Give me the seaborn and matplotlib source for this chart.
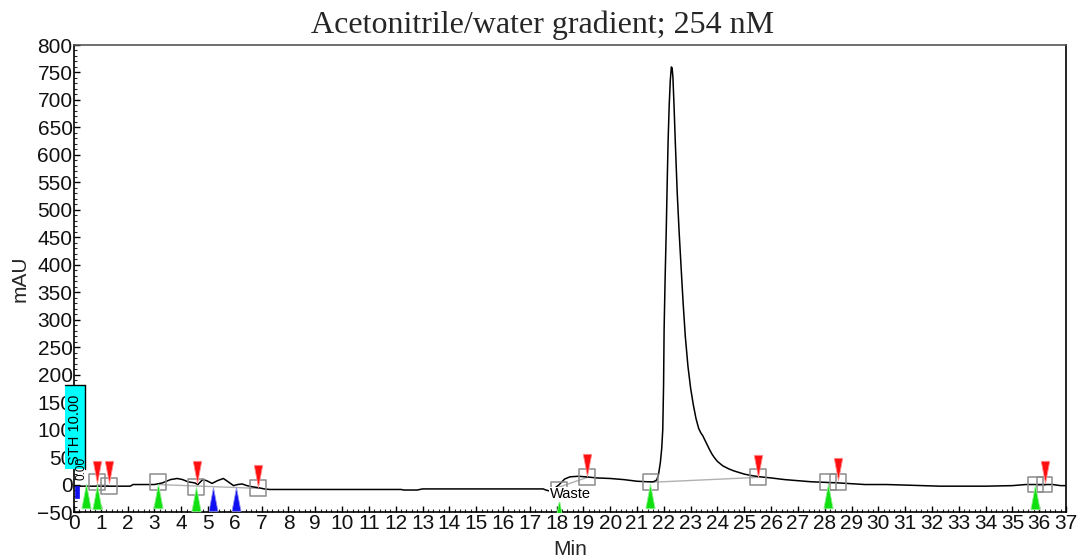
import numpy as np
import pandas as pd
import matplotlib
matplotlib.use("Agg")
import matplotlib.pyplot as plt
from matplotlib.patches import Rectangle
from matplotlib.ticker import MultipleLocator
import seaborn as sns

# ---------------- data ----------------
trace_t = [0.0, 0.5, 1.0, 1.5, 2.1, 2.2, 3.0, 3.3, 3.6, 3.85, 4.05, 4.25, 4.5, 4.62,
           4.8, 4.95, 5.15, 5.35, 5.57, 5.75, 5.95, 6.1, 6.27, 6.45, 6.64, 6.9, 7.1,
           7.3, 9.0, 10.0, 12.2, 12.3, 12.8, 13.0, 15.0, 17.5, 17.6, 17.75, 17.9,
           18.1, 18.3, 18.5, 18.8, 19.1, 19.5, 20.0, 20.5, 21.0, 21.4, 21.6, 21.7,
           21.74, 21.8, 21.87, 21.92, 21.96, 21.99, 22.01, 22.05, 22.09, 22.13,
           22.16, 22.2, 22.24, 22.28, 22.31, 22.34, 22.38, 22.43, 22.5, 22.57,
           22.65, 22.72, 22.8, 22.9, 23.0, 23.1, 23.2, 23.3, 23.38, 23.45, 23.52,
           23.6, 23.7, 23.8, 23.9, 24.0, 24.2, 24.4, 24.6, 24.8, 25.0, 25.3, 25.6,
           26.0, 26.5, 27.5, 28.5, 29.5, 30.3, 31.0, 32.3, 34.0, 35.0, 35.5, 36.5,
           36.8, 37.0]
trace_v = [-3, -3, -3, -3, -3, 0, 0, 3, 9, 11, 9, 5, 3, 0,
           9, 7, 2, 7, 11, 5, -2, 0, 1, -2, -4, -6, -8,
           -9, -9, -9, -9, -10, -10, -8, -8, -8, -10, -12, -8,
           0, 10, 14, 15, 14, 12, 11, 9, 6, 5, 5, 7,
           9, 18, 40, 65, 100, 180, 282, 380, 463, 560,
           627, 690, 735, 760, 758, 740, 690, 620, 530, 460,
           390, 330, 270, 215, 175, 145, 120, 102, 94, 89, 82,
           74, 64, 55, 48, 42, 34, 29, 25, 22, 19, 16, 14,
           12, 9, 5, 3, 0, 0, -1, -3, -3, -2, 0, 0,
           -2, -2]

red_t = [0.86, 1.3, 4.59, 6.87, 19.14, 25.5, 28.5, 36.2]
red_v = [23, 23, 22, 16, 35, 33, 28, 22]
green_t = [0.45, 0.86, 3.13, 4.55, 18.1, 21.5, 28.13, 35.86]
green_v = [-21, -23, -20, -27, -50, -20, -20, -22]
blue_t = [5.2, 6.04]
blue_v = [-26, -27]
blue_start_t = [0.13]
blue_start_v = [-14]
square_t = [0.86, 1.3, 3.13, 4.55, 6.87, 18.1, 19.14, 21.5, 25.5, 28.13, 28.5, 35.86, 36.2]
square_v = [5, -2, 5, -4, -7, -9, 13, 4, 13, 4, 5, 0, 0]
base_t0 = [0.86, 3.13, 17.9, 21.5, 28.13, 35.86]
base_v0 = [0, 0, -8, 4, 3, 0]
base_t1 = [1.3, 6.87, 19.14, 25.5, 28.5, 36.2]
base_v1 = [-2, -7, 13, 13, 4, 0]

x_ticks = list(range(0, 38))
y_ticks = list(range(-50, 801, 50))

# ---------------- figure ----------------
sns.set_style("white")
plt.rcParams['font.family'] = ['Liberation Sans', 'DejaVu Sans']

fig = plt.figure(figsize=(10.78, 5.58), dpi=100)
ax = fig.add_axes([74/1078, 1 - 512/558, (1066-74)/1078, (512-45)/558])

df = pd.DataFrame({"t": trace_t, "v": trace_v})

# baselines
for a, b, c, d in zip(base_t0, base_v0, base_t1, base_v1):
    ax.plot([a, c], [b, d], color="#b0b0b0", lw=1.0, zorder=2)

sns.lineplot(data=df, x="t", y="v", ax=ax, color="black", lw=1.1,
             estimator=None, sort=False, zorder=3)

down_tri = [(-0.38, 1.0), (0.38, 1.0), (0.0, -1.0), (-0.38, 1.0)]
up_tri = [(-0.38, -1.0), (0.38, -1.0), (0.0, 1.0), (-0.38, -1.0)]
bar_mk = [(-0.33, -1.0), (0.33, -1.0), (0.33, 1.0), (-0.33, 1.0), (-0.33, -1.0)]

sns.scatterplot(x=square_t, y=square_v, ax=ax, marker="s", s=130,
                facecolor="none", edgecolor="#8c8c8c", linewidth=1.1, zorder=4)
sns.scatterplot(x=red_t, y=red_v, ax=ax, marker=down_tri, s=260,
                color="#ff1010", edgecolor="#ff9090", linewidth=0.6, zorder=5)
sns.scatterplot(x=green_t, y=green_v, ax=ax, marker=up_tri, s=310,
                color="#10e010", edgecolor="#90f090", linewidth=0.6, zorder=5)
sns.scatterplot(x=blue_t, y=blue_v, ax=ax, marker=up_tri, s=290,
                color="#1010f0", edgecolor="#9090f0", linewidth=0.6, zorder=5)
sns.scatterplot(x=blue_start_t, y=blue_start_v, ax=ax, marker=bar_mk, s=75,
                color="#1010f0", edgecolor="#1010f0", linewidth=0.5, zorder=5)

# cyan event box
ax.add_patch(Rectangle((-0.34, 29), 0.74, 153, facecolor="#00ffff",
                       edgecolor="none", clip_on=False, zorder=6))
ax.plot([-0.34, 0.40], [182, 182], color="black", lw=1.0, clip_on=False, zorder=7)
ax.plot([0.40, 0.40], [29, 182], color="black", lw=1.0, clip_on=False, zorder=7)
ax.text(0.04, 100, "STH 10.00", rotation=90, ha="center", va="center",
        fontsize=10.5, color="black", zorder=8, clip_on=False)
ax.text(0.27, 30, "0.00", rotation=90, ha="center", va="center",
        fontsize=8.5, color="black", zorder=8)
ax.text(18.5, -18, "Waste", ha="center", va="center", fontsize=10.5,
        color="black", zorder=8,
        bbox=dict(facecolor="white", edgecolor="none", pad=0.5))

# axes formatting
ax.set_xlim(0, 37)
ax.set_ylim(-50, 800)
ax.set_xticks(x_ticks)
ax.set_yticks(y_ticks)
ax.xaxis.set_minor_locator(MultipleLocator(0.2))
ax.yaxis.set_minor_locator(MultipleLocator(10))
ax.tick_params(axis="both", which="major", direction="in", length=4, width=1,
               labelsize=15, pad=1.5, colors="black")
ax.tick_params(axis="y", which="major", pad=1)
ax.tick_params(axis="both", which="minor", direction="in", length=2, width=0.8)
ax.tick_params(axis="x", which="both", bottom=True, top=False)
ax.tick_params(axis="y", which="both", left=True, right=False)
for lab in ax.get_xticklabels() + ax.get_yticklabels():
    lab.set_color("#111111")

for side in ["left", "bottom", "right"]:
    ax.spines[side].set_color("black")
    ax.spines[side].set_linewidth(1.2)
ax.spines["top"].set_color("#555555")
ax.spines["top"].set_linewidth(1.2)

ax.set_xlabel("Min", fontsize=15)
ax.xaxis.set_label_coords(0.5, -28/467)
ax.set_ylabel("mAU", fontsize=15)
ax.yaxis.set_label_coords(-44/992, 0.5)
fig.text(543/1078, 1 - 33/558, "Acetonitrile/water gradient; 254 nM",
         fontsize=23, ha="center", va="baseline",
         family=["Liberation Serif", "DejaVu Serif"])

fig.savefig("out.png", dpi=100)
